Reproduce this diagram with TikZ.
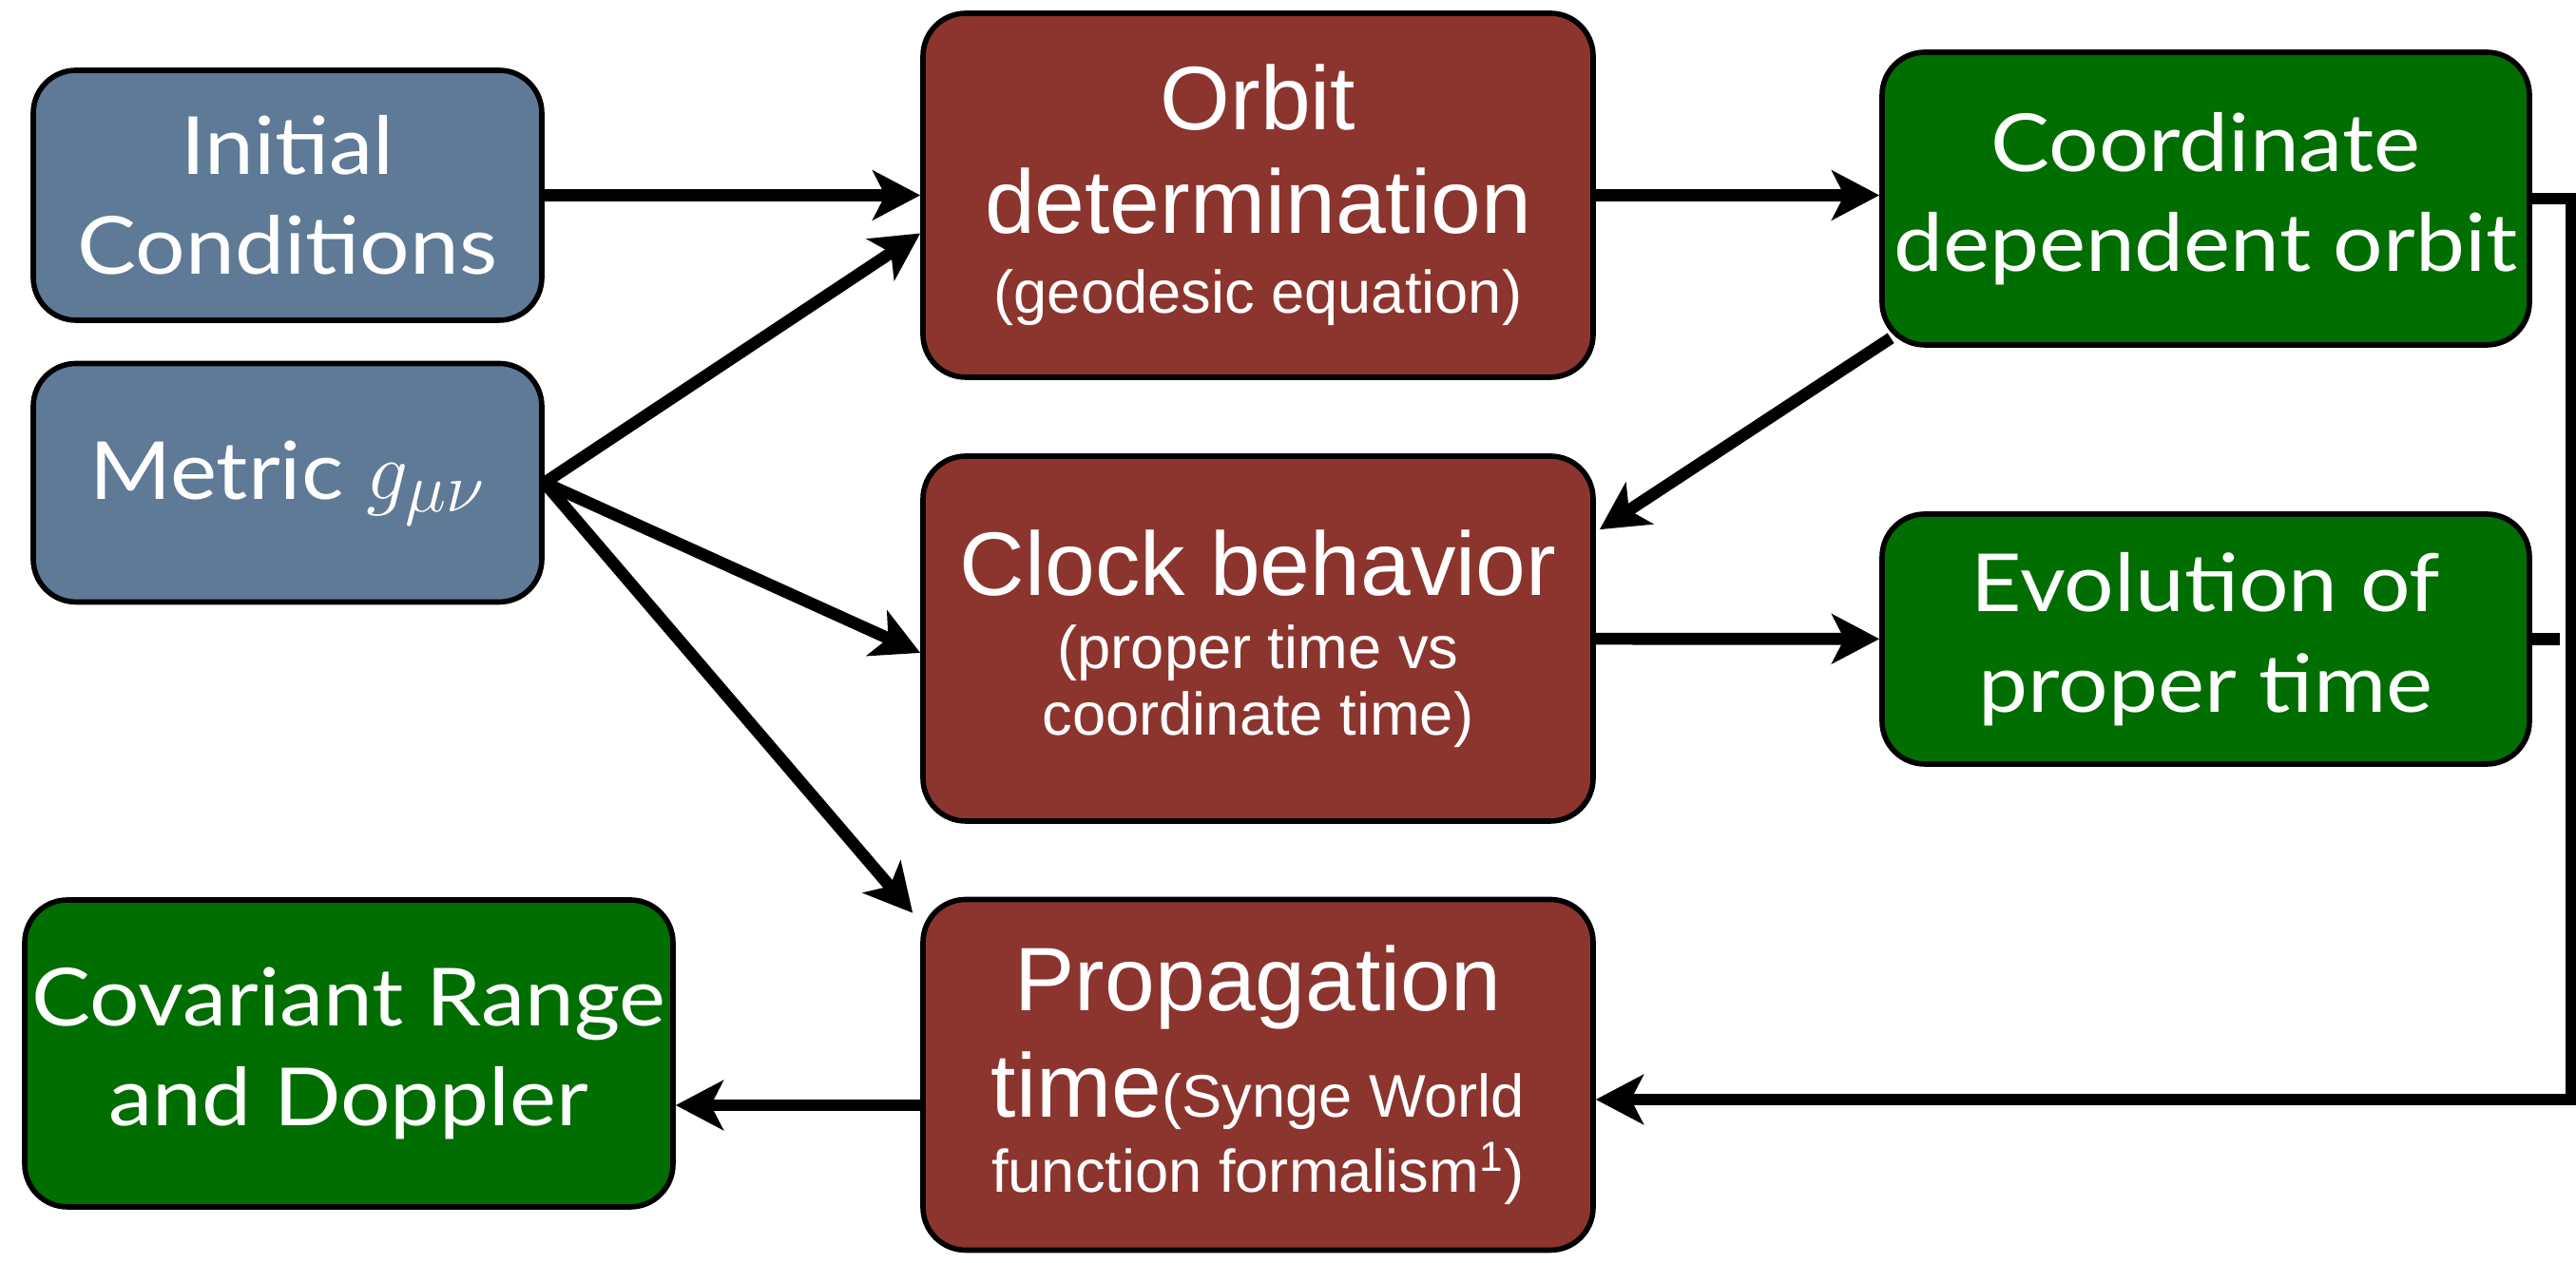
\documentclass[tikz,border=0pt]{standalone}
\usepackage{fontspec}
\setmainfont{Liberation Sans}
\newfontfamily\gillfont[FakeStretch=1.1]{Lato}
\usetikzlibrary{arrows.meta,positioning,calc}

\definecolor{slateblue}{RGB}{94,122,150}
\definecolor{brickred}{RGB}{139,53,46}
\definecolor{leafgreen}{RGB}{0,110,0}

\newcommand{\subline}[1]{{\fontsize{18}{20}\selectfont #1}}

\tikzset{
   box node/.style={draw=black,line width=1.6pt,rounded corners=0.45cm,text=white,align=center,inner sep=0pt},
   input node/.style={box node,fill=slateblue,font=\gillfont\fontsize{24}{30}\selectfont},
   step node/.style={box node,fill=brickred,font=\fontsize{27}{31}\selectfont},
   output node/.style={box node,fill=leafgreen,font=\gillfont\fontsize{24}{30}\selectfont},
   flow/.style={line width=3.6pt}
}

\begin{document}
\begin{tikzpicture}[>={Stealth[length=0.5cm,width=0.52cm,inset=0.13cm]}]
\useasboundingbox (0,0) rectangle (27.1,13.29);

% inputs
\node[input node, minimum width=5.35cm, minimum height=2.63cm] (init) at (3.025,11.235) {Initial\\Conditions};
\node[input node, minimum width=5.35cm, minimum height=2.51cm] (metric) at (3.025,8.21) {Metric {\fontsize{30}{30}\selectfont$g_{\mu\nu}$}};

% computation steps
\node[step node, minimum width=7.05cm, minimum height=3.83cm] (orbit) at (13.235,11.235) {Orbit\\determination\\[-7pt]\subline{(geodesic equation)}};
\node[step node, minimum width=7.05cm, minimum height=3.84cm] (clock) at (13.235,6.57) {Clock behavior\\[-9pt]\subline{(proper time vs}\\[-11pt]\subline{coordinate time)}};
\node[step node, minimum width=7.05cm, minimum height=3.69cm] (prop) at (13.235,1.98) {Propagation\\[1pt]time\subline{(Synge World}\\[-8.5pt]\subline{function formalism\textsuperscript{1})}};

% results
\node[output node, minimum width=6.81cm, minimum height=3.08cm] (coord) at (23.205,11.20) {Coordinate\\dependent orbit};
\node[output node, minimum width=6.81cm, minimum height=2.63cm] (evol) at (23.205,6.565) {Evolution of\\proper time};
\node[output node, minimum width=6.82cm, minimum height=3.23cm] (cov) at (3.67,2.205) {Covariant Range\\and Doppler};

\coordinate (loopend) at (27.05,1.72);
\coordinate (evoljoin) at (26.93,6.565);

\draw[flow,->] (init) -- (orbit);
\draw[flow,->] (metric.east) -- ([yshift=-0.4cm]orbit.west);
\draw[flow,->] (metric.east) -- ([yshift=-0.15cm]clock.west);
\draw[flow,->] (metric.east) -- ([shift={(-0.08,-0.17)}]prop.north west);
\draw[flow,->] (orbit.east) -- (orbit.east -| coord.west);
\draw[flow,->] ([shift={(0.12,0.1)}]coord.south west) -- ([shift={(0.04,-0.8)}]clock.north east);
\draw[flow,->] (clock) -- (evol);
\draw[flow,->] (coord.east) -| (loopend) -- (loopend -| prop.east);
\draw[flow] (evol.east) -- (evoljoin);
\draw[flow,->] ([yshift=-0.32cm]prop.west) -- ([yshift=-0.32cm]prop.west -| cov.east);
\end{tikzpicture}
\end{document}
